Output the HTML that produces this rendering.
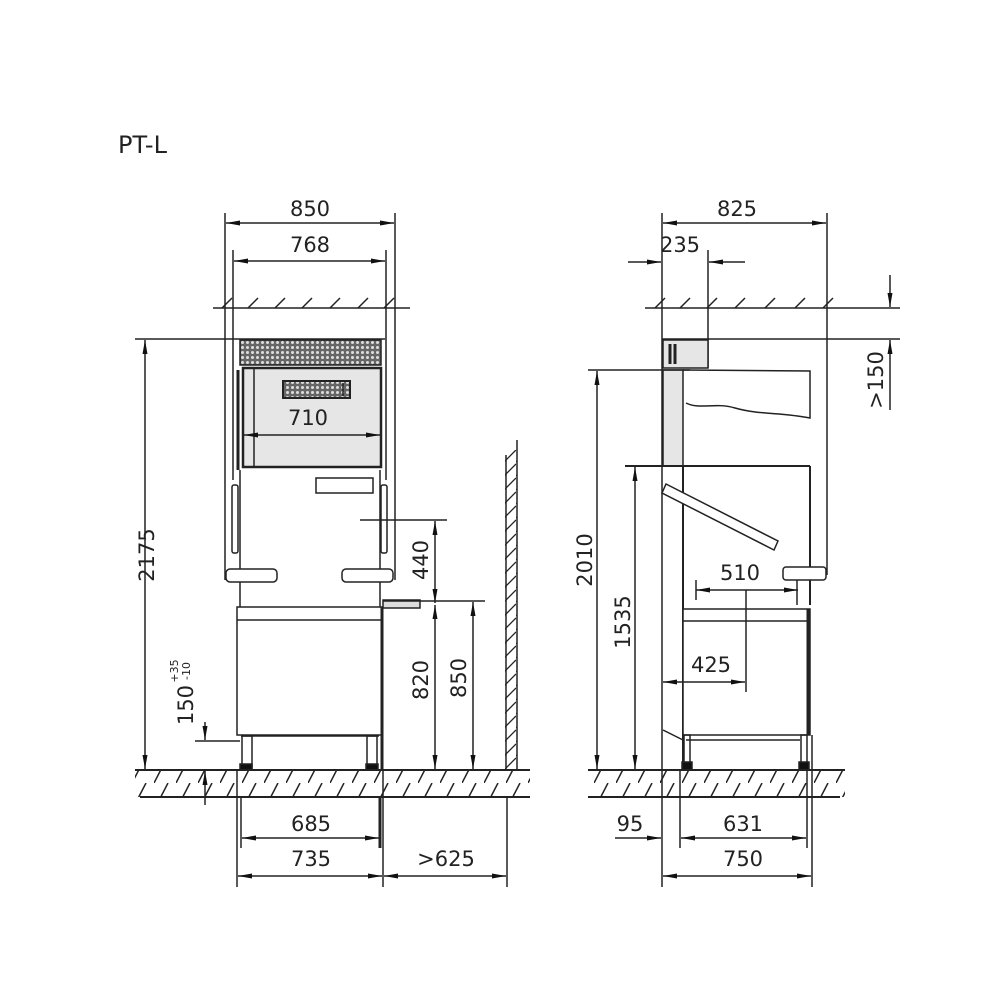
<!DOCTYPE html>
<html><head><meta charset="utf-8"><style>
html,body{margin:0;padding:0;background:#fff}
svg{display:block}
text{font-family:"DejaVu Sans","Liberation Sans",sans-serif;font-size:21px;fill:#222}
</style></head><body>
<svg width="1000" height="1000" viewBox="0 0 1000 1000" xmlns="http://www.w3.org/2000/svg">
<defs>
<marker id="a" viewBox="0 0 14 6" refX="14" refY="3" markerWidth="14" markerHeight="6" markerUnits="userSpaceOnUse" orient="auto-start-reverse"><path d="M0,0.5 L14,3 L0,5.5z" fill="#111"/></marker>
<pattern id="perf" width="5" height="5" patternUnits="userSpaceOnUse"><rect width="5" height="5" fill="#666"/><circle cx="2.5" cy="2.5" r="1.5" fill="#ddd"/></pattern>
<pattern id="hatch" width="22" height="27" patternUnits="userSpaceOnUse"><line x1="0" y1="27" x2="14" y2="0" stroke="#222" stroke-width="1.5"/></pattern>
<pattern id="whatch" width="12" height="14" patternUnits="userSpaceOnUse"><line x1="0" y1="14" x2="12" y2="2" stroke="#222" stroke-width="1.3"/></pattern>
</defs>
<g stroke="#222" stroke-width="1.5" fill="none">
<text x="118" y="153" stroke="none" style="font-size:24px">PT-L</text>

<!-- LEFT VIEW -->
<line x1="225" y1="213" x2="225" y2="580"/><line x1="395" y1="213" x2="395" y2="580"/>
<line x1="233" y1="250" x2="233" y2="480"/><line x1="386" y1="250" x2="386" y2="480"/>
<line x1="226" y1="223" x2="394" y2="223" marker-start="url(#a)" marker-end="url(#a)"/>
<line x1="234" y1="261" x2="385" y2="261" marker-start="url(#a)" marker-end="url(#a)"/>
<text x="310" y="216" text-anchor="middle" stroke="none">850</text>
<text x="310" y="252" text-anchor="middle" stroke="none">768</text>
<line x1="213" y1="308" x2="410" y2="308"/>
<path d="M222,308l10,-10M248,308l10,-10M275,308l10,-10M302,308l10,-10M330,308l10,-10M358,308l10,-10M384,308l10,-10"/>
<line x1="135" y1="339" x2="385" y2="339"/>
<rect x="240" y="340" width="141" height="25" fill="url(#perf)" stroke="#222"/>
<rect x="243" y="368" width="138" height="99" fill="#e6e6e6" stroke-width="2.5"/>
<line x1="254" y1="368" x2="254" y2="467"/>
<line x1="238" y1="370" x2="238" y2="470" stroke-width="3"/>
<rect x="283" y="381" width="67" height="17" fill="url(#perf)" stroke-width="2"/>
<line x1="343" y1="383" x2="343" y2="396"/>
<text x="308" y="425" text-anchor="middle" stroke="none">710</text>
<line x1="244" y1="435" x2="380" y2="435" marker-start="url(#a)" marker-end="url(#a)"/>
<rect x="316" y="478" width="57" height="15"/>
<rect x="232" y="485" width="6" height="68" rx="2"/>
<rect x="381" y="485" width="6" height="68" rx="2"/>
<line x1="240" y1="470" x2="240" y2="608"/><line x1="380" y1="470" x2="380" y2="608"/>
<rect x="226" y="569" width="51" height="13" rx="4" fill="#fff"/>
<rect x="342" y="569" width="51" height="13" rx="4" fill="#fff"/>
<rect x="237" y="607" width="145" height="128" fill="#fff"/>
<line x1="237" y1="620" x2="382" y2="620"/>
<line x1="382" y1="607" x2="382" y2="770" stroke-width="3"/>
<rect x="383" y="600" width="37" height="8" fill="#ddd"/>
<line x1="241" y1="736" x2="379" y2="736"/>
<rect x="242" y="736" width="10" height="32"/><rect x="367" y="736" width="10" height="32"/>
<rect x="240" y="764" width="12" height="6" fill="#111"/><rect x="366" y="764" width="12" height="6" fill="#111"/>
<rect x="135" y="771" width="395" height="26" fill="url(#hatch)" stroke="none"/>
<line x1="135" y1="770" x2="530" y2="770" stroke-width="2"/>
<line x1="140" y1="797" x2="530" y2="797" stroke-width="2"/>
<rect x="505" y="450" width="12" height="320" fill="url(#whatch)" stroke="none"/>
<line x1="517" y1="440" x2="517" y2="770"/><line x1="506" y1="455" x2="506" y2="770"/>
<line x1="145" y1="340" x2="145" y2="769" marker-start="url(#a)" marker-end="url(#a)"/>
<text transform="translate(154,555) rotate(-90)" text-anchor="middle" stroke="none">2175</text>
<line x1="195" y1="741" x2="240" y2="741"/>
<line x1="205" y1="722" x2="205" y2="740" marker-end="url(#a)"/>
<line x1="205" y1="805" x2="205" y2="771" marker-end="url(#a)"/>
<text transform="translate(193,705) rotate(-90)" text-anchor="middle" stroke="none">150</text>
<text transform="translate(178,671) rotate(-90)" text-anchor="middle" stroke="none" style="font-size:11px">+35</text>
<text transform="translate(190,671) rotate(-90)" text-anchor="middle" stroke="none" style="font-size:11px">-10</text>
<line x1="360" y1="520" x2="447" y2="520"/>
<line x1="435" y1="521" x2="435" y2="603" marker-start="url(#a)" marker-end="url(#a)"/>
<line x1="435" y1="605" x2="435" y2="769" marker-start="url(#a)" marker-end="url(#a)"/>
<line x1="383" y1="601" x2="485" y2="601"/>
<line x1="473" y1="602" x2="473" y2="769" marker-start="url(#a)" marker-end="url(#a)"/>
<text transform="translate(428,560) rotate(-90)" text-anchor="middle" stroke="none">440</text>
<text transform="translate(428,680) rotate(-90)" text-anchor="middle" stroke="none">820</text>
<text transform="translate(466,678) rotate(-90)" text-anchor="middle" stroke="none">850</text>
<line x1="237" y1="770" x2="237" y2="887"/><line x1="241" y1="797" x2="241" y2="848"/>
<line x1="383" y1="770" x2="383" y2="887"/><line x1="507" y1="797" x2="507" y2="887"/>
<line x1="380" y1="797" x2="380" y2="848" stroke-width="3"/>
<line x1="242" y1="838" x2="379" y2="838" marker-start="url(#a)" marker-end="url(#a)"/>
<line x1="238" y1="876" x2="382" y2="876" marker-start="url(#a)" marker-end="url(#a)"/>
<line x1="384" y1="876" x2="506" y2="876" marker-start="url(#a)" marker-end="url(#a)"/>
<text x="311" y="831" text-anchor="middle" stroke="none">685</text>
<text x="311" y="866" text-anchor="middle" stroke="none">735</text>
<text x="446" y="866" text-anchor="middle" stroke="none">&gt;625</text>

<!-- RIGHT VIEW -->
<line x1="662" y1="213" x2="662" y2="887"/>
<line x1="827" y1="213" x2="827" y2="575"/>
<line x1="663" y1="223" x2="826" y2="223" marker-start="url(#a)" marker-end="url(#a)"/>
<text x="737" y="216" text-anchor="middle" stroke="none">825</text>
<line x1="708" y1="250" x2="708" y2="368"/>
<line x1="628" y1="262" x2="661" y2="262" marker-end="url(#a)"/>
<line x1="745" y1="262" x2="709" y2="262" marker-end="url(#a)"/>
<text x="680" y="252" text-anchor="middle" stroke="none">235</text>
<line x1="645" y1="308" x2="900" y2="308"/>
<path d="M655,308l10,-10M680,308l10,-10M707,308l10,-10M735,308l10,-10M765,308l10,-10M795,308l10,-10M823,308l10,-10"/>
<line x1="662" y1="339" x2="900" y2="339"/>
<rect x="663" y="340" width="45" height="28" fill="#e6e6e6"/>
<path d="M670,344v20M675,344v20" stroke-width="3"/>
<line x1="890" y1="275" x2="890" y2="307" marker-end="url(#a)"/>
<line x1="890" y1="410" x2="890" y2="340" marker-end="url(#a)"/>
<text transform="translate(883,380) rotate(-90)" text-anchor="middle" stroke="none">&gt;150</text>
<rect x="663" y="370" width="20" height="96" fill="#e6e6e6"/>
<line x1="588" y1="370" x2="690" y2="370"/>
<path d="M683,370 L810,371 L810,418 C780,412 760,415 735,408 C715,402 700,410 686,403" fill="none"/>
<line x1="597" y1="371" x2="597" y2="769" marker-start="url(#a)" marker-end="url(#a)"/>
<text transform="translate(592,560) rotate(-90)" text-anchor="middle" stroke="none">2010</text>
<line x1="625" y1="466" x2="810" y2="466" stroke-width="2"/>
<line x1="810" y1="466" x2="810" y2="605" stroke-width="2"/>
<line x1="683" y1="466" x2="683" y2="770" stroke-width="2"/>
<line x1="635" y1="467" x2="635" y2="769" marker-start="url(#a)" marker-end="url(#a)"/>
<text transform="translate(630,622) rotate(-90)" text-anchor="middle" stroke="none">1535</text>
<path d="M666,484 L778,541 L774,550 L662,493z" fill="#fff"/>
<rect x="783" y="567" width="43" height="13" rx="3" fill="#fff"/>
<line x1="797" y1="580" x2="797" y2="605"/>
<line x1="696" y1="580" x2="696" y2="600"/>
<line x1="696" y1="590" x2="798" y2="590" marker-start="url(#a)" marker-end="url(#a)"/>
<text x="740" y="580" text-anchor="middle" stroke="none">510</text>
<rect x="683" y="609" width="127" height="126" fill="#fff"/>
<line x1="683" y1="621" x2="810" y2="621"/>
<line x1="808" y1="609" x2="808" y2="735" stroke-width="3"/>
<line x1="746" y1="590" x2="746" y2="692"/>
<line x1="663" y1="682" x2="745" y2="682" marker-start="url(#a)" marker-end="url(#a)"/>
<text x="711" y="672" text-anchor="middle" stroke="none">425</text>
<line x1="663" y1="730" x2="683" y2="740"/>
<line x1="686" y1="740" x2="800" y2="740"/>
<rect x="684" y="735" width="6" height="30"/><rect x="801" y="735" width="6" height="30"/>
<rect x="682" y="762" width="10" height="8" fill="#111"/><rect x="799" y="762" width="10" height="8" fill="#111"/>
<rect x="588" y="771" width="257" height="26" fill="url(#hatch)" stroke="none"/>
<line x1="588" y1="770" x2="845" y2="770" stroke-width="2"/>
<line x1="588" y1="797" x2="840" y2="797" stroke-width="2"/>
<line x1="680" y1="770" x2="680" y2="848"/><line x1="807" y1="770" x2="807" y2="848"/>
<line x1="812" y1="735" x2="812" y2="887"/>
<line x1="615" y1="838" x2="661" y2="838" marker-end="url(#a)"/>
<line x1="681" y1="838" x2="806" y2="838" marker-start="url(#a)" marker-end="url(#a)"/>
<line x1="663" y1="876" x2="811" y2="876" marker-start="url(#a)" marker-end="url(#a)"/>
<text x="630" y="831" text-anchor="middle" stroke="none">95</text>
<text x="743" y="831" text-anchor="middle" stroke="none">631</text>
<text x="743" y="866" text-anchor="middle" stroke="none">750</text>
</g>
</svg>
</body></html>
